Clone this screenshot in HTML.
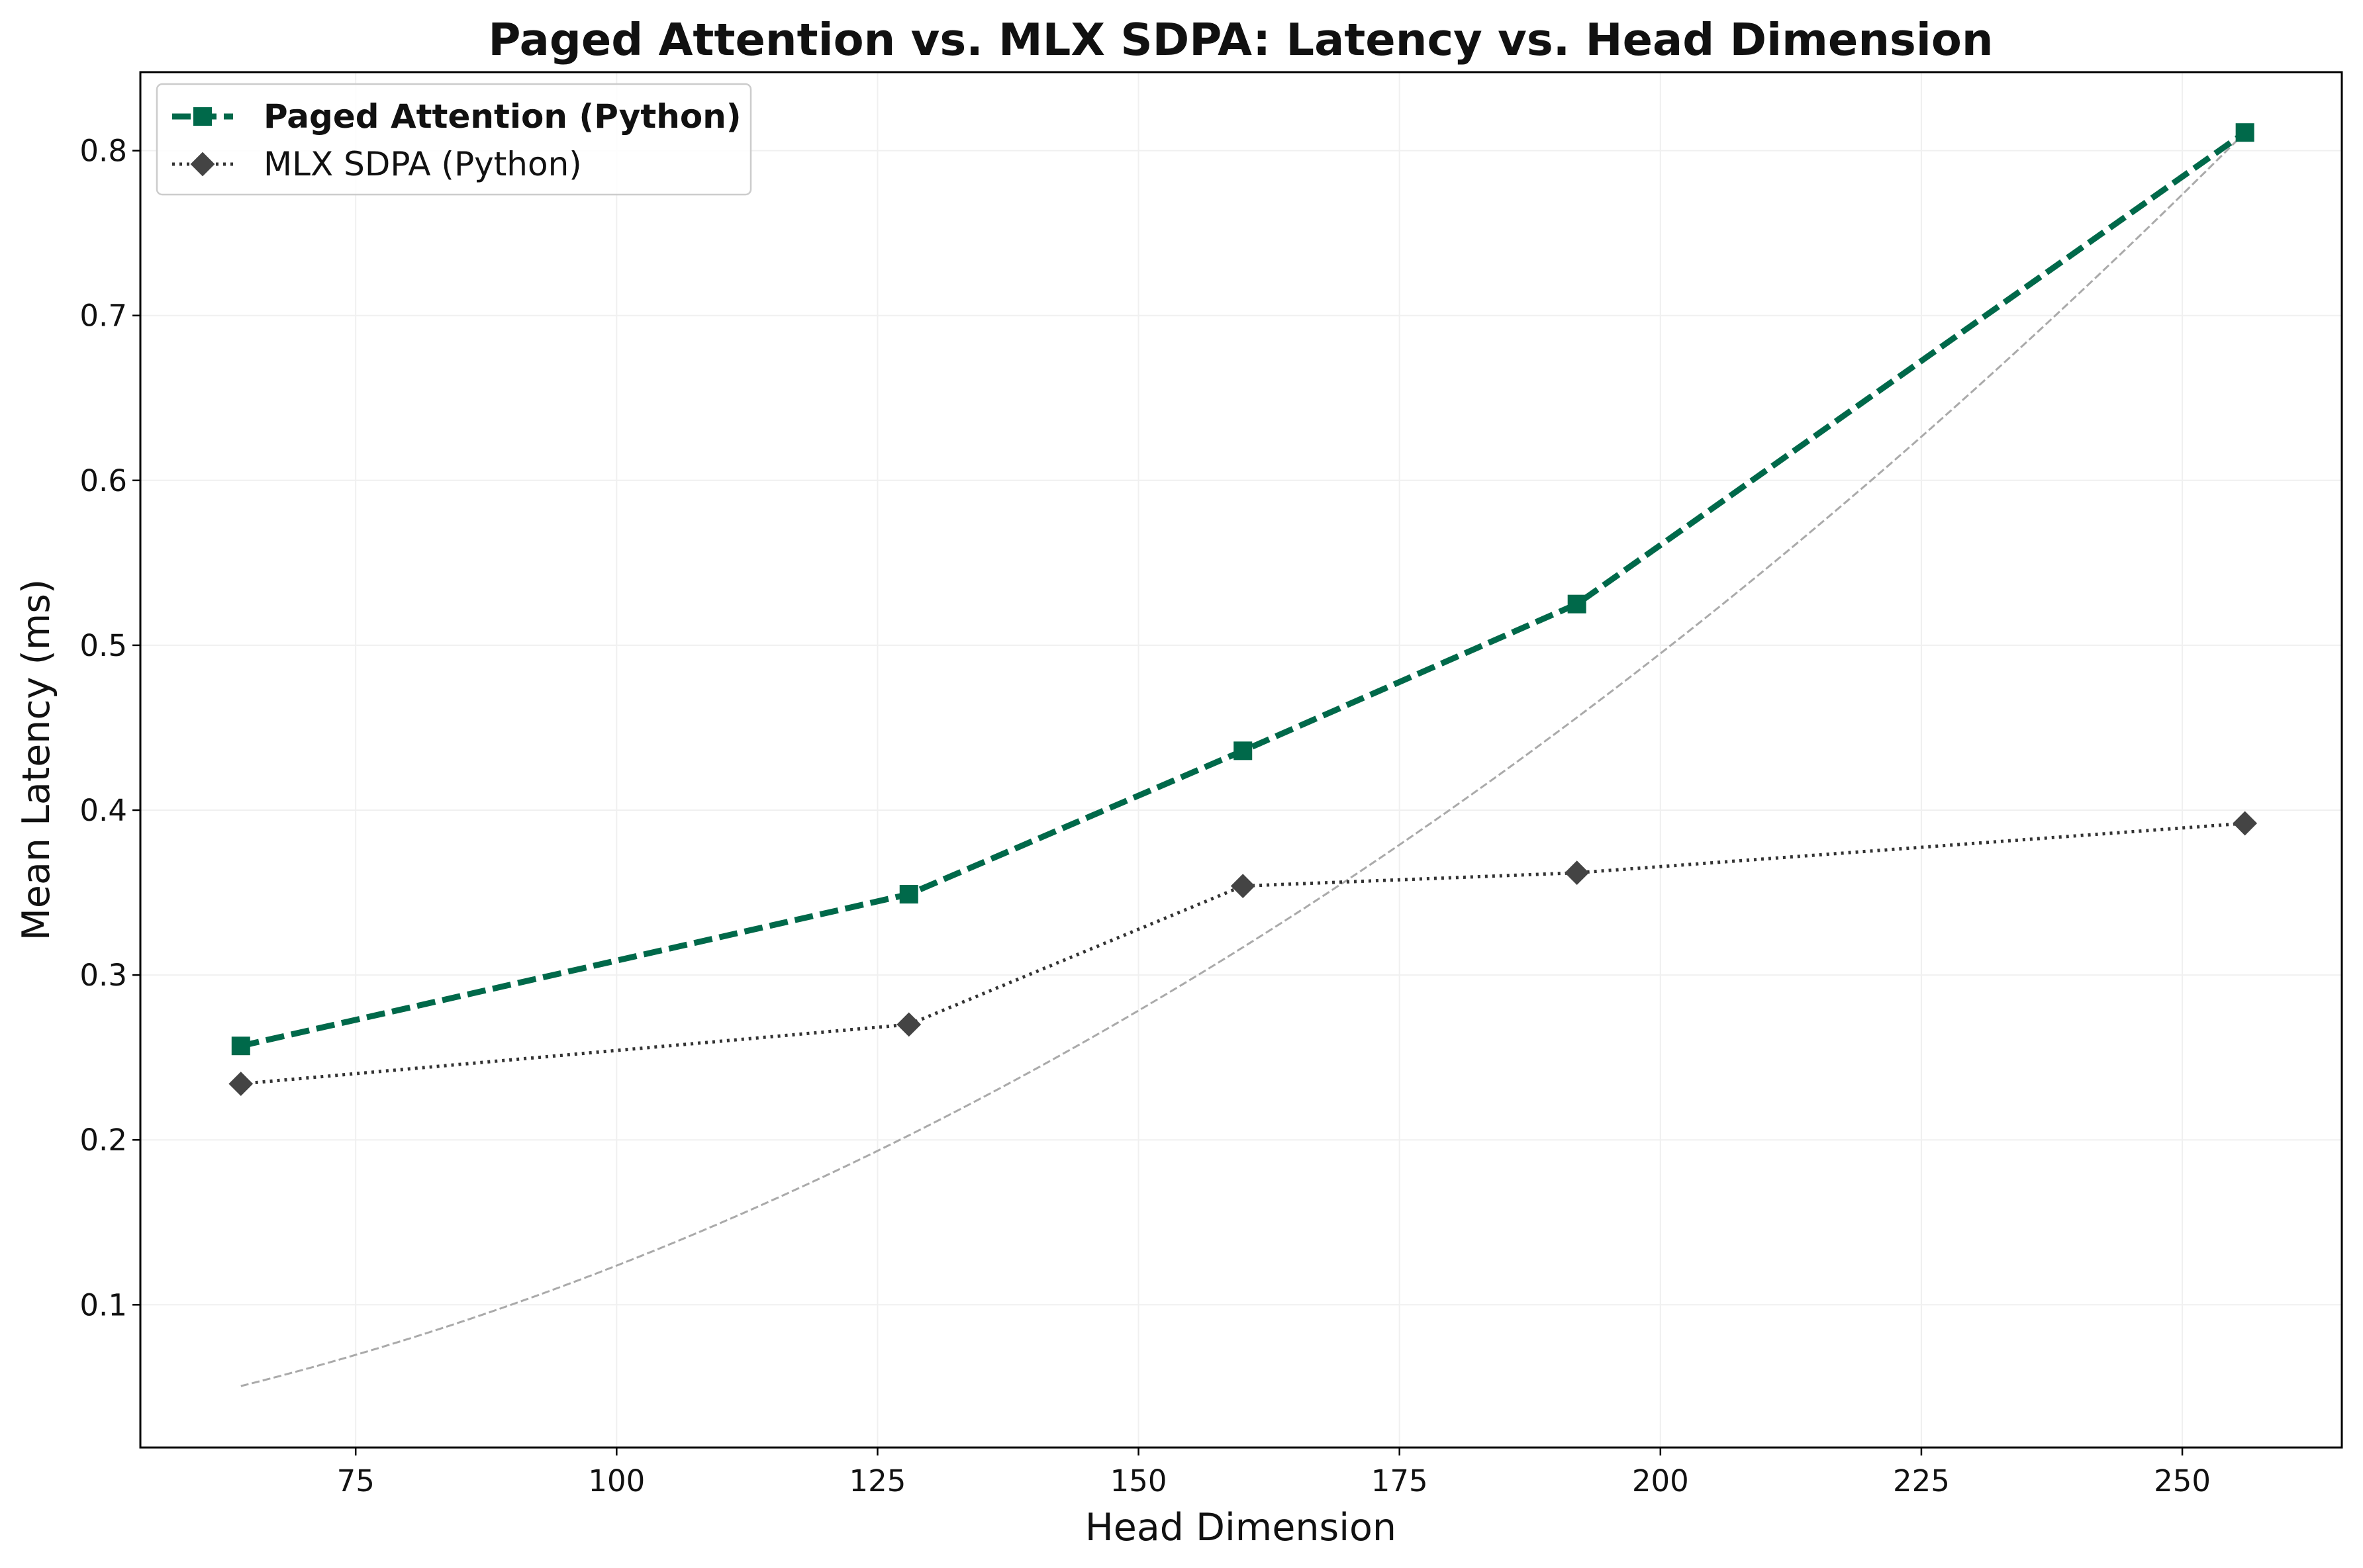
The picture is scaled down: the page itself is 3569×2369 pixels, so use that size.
<!DOCTYPE html>
<html><head><meta charset="utf-8"><style>
html,body{margin:0;padding:0;background:#fff;}
svg{display:block;font-family:"DejaVu Sans","Liberation Sans",sans-serif;}
</style></head><body>
<svg id="chart" width="3569" height="2369" viewBox="0 0 3569 2369" xmlns="http://www.w3.org/2000/svg">
<rect width="3569" height="2369" fill="#fff"/>
<text x="1874" y="83" text-anchor="middle" font-size="67" font-weight="bold" fill="#111">Paged Attention vs. MLX SDPA: Latency vs. Head Dimension</text>
<g id="grid"></g>
<g id="series"></g>
<rect x="212" y="109" width="3325" height="2078" fill="none" stroke="#000" stroke-width="3"/>
<g id="ticks"></g>
<text x="1874" y="2327" text-anchor="middle" font-size="57" fill="#111">Head Dimension</text>
<text transform="translate(74,1148) rotate(-90)" text-anchor="middle" font-size="57" fill="#111">Mean Latency (ms)</text>
<g>
<rect x="237" y="127" width="897" height="167" rx="8" fill="#fff" fill-opacity="0.85" stroke="#ccc" stroke-width="2.5"/>
<g>
<line x1="260" y1="176" x2="352" y2="176" stroke="#00694a" stroke-width="9" stroke-dasharray="28,11"/>
<rect x="292" y="162" width="28" height="28" fill="#00694a"/>
<text x="398" y="193" font-size="50" font-weight="bold" fill="#111">Paged Attention (Python)</text>
</g>
<g>
<line x1="260" y1="248" x2="352" y2="248" stroke="#333" stroke-width="5" stroke-dasharray="4,7"/>
<rect x="293" y="235" width="26" height="26" fill="#444" transform="rotate(45 306 248)"/>
<text x="398" y="265" font-size="50" fill="#111">MLX SDPA (Python)</text>
</g>
</g>
</svg>
<script>
const headDims = [64, 128, 160, 192, 256];
const pagedLatency = [0.257, 0.349, 0.436, 0.525, 0.811];
const mlxLatency = [0.234, 0.270, 0.354, 0.362, 0.392];
const xTicks = [75, 100, 125, 150, 175, 200, 225, 250];
const yTicks = [0.1, 0.2, 0.3, 0.4, 0.5, 0.6, 0.7, 0.8];

const NS = "http://www.w3.org/2000/svg";
const L = 212, R = 3537, T = 109, B = 2187;
function xs(v){ return 537.2 + (v - 75) * 15.765; }
function ys(v){ return 227.6 + (0.8 - v) * 2491; }
function mk(tag, attrs, parent){ const e = document.createElementNS(NS, tag); for (const k in attrs) e.setAttribute(k, attrs[k]); parent.appendChild(e); return e; }

const grid = document.getElementById('grid');
const ticks = document.getElementById('ticks');
const series = document.getElementById('series');

xTicks.forEach(t => {
  const x = xs(t);
  const g = mk('line', {x1:x, x2:x, y1:T, y2:B, stroke:'#f0f0f0', 'stroke-width':2}, grid);
  
  
  mk('line', {x1:x, x2:x, y1:B, y2:B+12, stroke:'#000', 'stroke-width':2.5}, ticks);
  const lb = mk('text', {x:x, y:B+66, 'text-anchor':'middle', 'font-size':45, fill:'#111'}, ticks);
  lb.textContent = t;
  
  
});
yTicks.forEach(t => {
  const y = ys(t);
  const g = mk('line', {x1:L, x2:R, y1:y, y2:y, stroke:'#f0f0f0', 'stroke-width':2}, grid);
  
  
  mk('line', {x1:L-12, x2:L, y1:y, y2:y, stroke:'#000', 'stroke-width':2.5}, ticks);
  const lb = mk('text', {x:L-20, y:y+16, 'text-anchor':'end', 'font-size':45, fill:'#111'}, ticks);
  lb.textContent = t.toFixed(1);
  
  
});

const dMax = headDims[headDims.length-1], lMax = pagedLatency[pagedLatency.length-1];
let pts = [];
for (let d = headDims[0]; d <= dMax; d += 2) pts.push(xs(d) + ',' + ys(lMax * (d/dMax) * (d/dMax)));
const ref = mk('polyline', {points: pts.join(' '), fill:'none', stroke:'#aaa', 'stroke-width':3, 'stroke-dasharray':'12,5'}, series);



const mlxLine = mk('polyline', {points: headDims.map((d,i)=>xs(d)+','+ys(mlxLatency[i])).join(' '), fill:'none', stroke:'#333', 'stroke-width':5, 'stroke-dasharray':'4,7'}, series);


headDims.forEach((d,i) => {
  const x = xs(d), y = ys(mlxLatency[i]);
  const m = mk('rect', {x:x-13, y:y-13, width:26, height:26, fill:'#444', transform:`rotate(45 ${x} ${y})`}, series);
  
  
});

const pagedLine = mk('polyline', {points: headDims.map((d,i)=>xs(d)+','+ys(pagedLatency[i])).join(' '), fill:'none', stroke:'#00694a', 'stroke-width':9, 'stroke-dasharray':'28,11'}, series);


headDims.forEach((d,i) => {
  const x = xs(d), y = ys(pagedLatency[i]);
  const m = mk('rect', {x:x-14, y:y-14, width:28, height:28, fill:'#00694a'}, series);
  
  
});
</script>
</body></html>
